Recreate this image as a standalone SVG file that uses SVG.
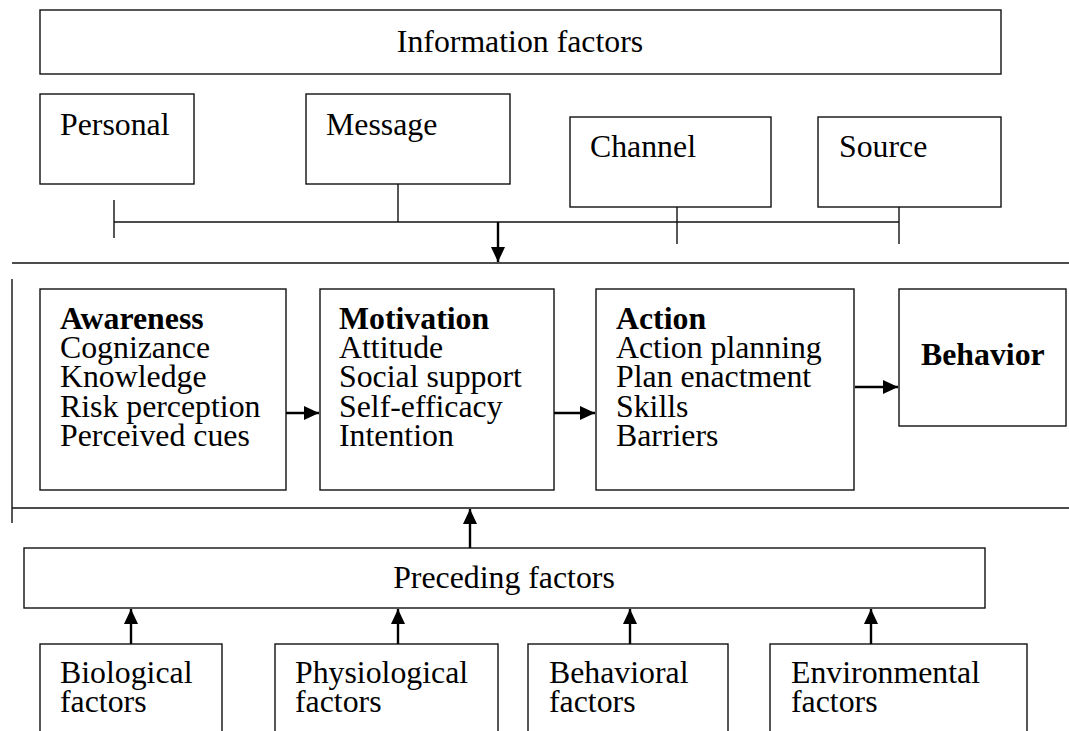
<svg xmlns="http://www.w3.org/2000/svg" width="1069" height="731" viewBox="0 0 1069 731">
<style>
.box{fill:#fff;stroke:#111;stroke-width:1.4}
.t{font-family:"Liberation Serif","Times New Roman",serif;font-size:31.8px;fill:#000}
.b{font-weight:bold}
.ln{stroke:#111;stroke-width:1.4;fill:none}
.ar{stroke:#000;stroke-width:2.4;fill:none;marker-end:url(#ah)}
</style>
<defs>
<marker id="ah" markerUnits="userSpaceOnUse" markerWidth="16" markerHeight="14" refX="15" refY="7" orient="auto">
<path d="M0,0 L15,7 L0,14 z" fill="#000"/>
</marker>
</defs>
<rect width="1069" height="731" fill="#fff"/>

<g id="information-factors"><rect class="box" x="40" y="10" width="961" height="64"/><text class="t" x="520" y="52" text-anchor="middle">Information factors</text></g>
<g id="personal"><rect class="box" x="40" y="94" width="154" height="90"/><text class="t" x="60" y="135">Personal</text></g>
<g id="message"><rect class="box" x="306" y="94" width="204" height="90"/><text class="t" x="326" y="135">Message</text></g>
<g id="channel"><rect class="box" x="570" y="117" width="201" height="90"/><text class="t" x="590" y="157">Channel</text></g>
<g id="source"><rect class="box" x="818" y="117" width="183" height="90"/><text class="t" x="839" y="157">Source</text></g>

<g id="awareness"><rect class="box" x="40" y="289" width="246" height="201"/>
<text class="t" x="60" y="329"><tspan class="b">Awareness</tspan><tspan x="60" y="358">Cognizance</tspan><tspan x="60" y="387">Knowledge</tspan><tspan x="60" y="417">Risk perception</tspan><tspan x="60" y="446">Perceived cues</tspan></text></g>
<g id="motivation"><rect class="box" x="320" y="289" width="234" height="201"/>
<text class="t" x="339" y="329"><tspan class="b">Motivation</tspan><tspan x="339" y="358">Attitude</tspan><tspan x="339" y="387">Social support</tspan><tspan x="339" y="417">Self-efficacy</tspan><tspan x="339" y="446">Intention</tspan></text></g>
<g id="action"><rect class="box" x="596" y="289" width="258" height="201"/>
<text class="t" x="616" y="329"><tspan class="b">Action</tspan><tspan x="616" y="358">Action planning</tspan><tspan x="616" y="387">Plan enactment</tspan><tspan x="616" y="417">Skills</tspan><tspan x="616" y="446">Barriers</tspan></text></g>
<g id="behavior"><rect class="box" x="899" y="289" width="167" height="137"/><text class="t b" x="921" y="365">Behavior</text></g>

<g id="preceding-factors"><rect class="box" x="24" y="548" width="961" height="60"/><text class="t" x="504" y="588" text-anchor="middle">Preceding factors</text></g>
<g id="biological"><rect class="box" x="40" y="644" width="182" height="100"/><text class="t" x="60" y="683"><tspan>Biological</tspan><tspan x="60" y="712">factors</tspan></text></g>
<g id="physiological"><rect class="box" x="275" y="644" width="223" height="100"/><text class="t" x="295" y="683"><tspan>Physiological</tspan><tspan x="295" y="712">factors</tspan></text></g>
<g id="behavioral"><rect class="box" x="528" y="644" width="200" height="100"/><text class="t" x="549" y="683"><tspan>Behavioral</tspan><tspan x="549" y="712">factors</tspan></text></g>
<g id="environmental"><rect class="box" x="770" y="644" width="257" height="100"/><text class="t" x="791" y="683"><tspan>Environmental</tspan><tspan x="791" y="712">factors</tspan></text></g>

<g id="connectors">
<line class="ln" x1="114" y1="222" x2="899" y2="222"/>
<line class="ln" x1="114" y1="200" x2="114" y2="238"/>
<line class="ln" x1="398" y1="184" x2="398" y2="222"/>
<line class="ln" x1="677" y1="207" x2="677" y2="244"/>
<line class="ln" x1="899" y1="207" x2="899" y2="244"/>
<line class="ar" x1="498" y1="222" x2="498" y2="262"/>
<line class="ln" x1="12" y1="263" x2="1069" y2="263"/>
<line class="ln" x1="12" y1="508" x2="1069" y2="508"/>
<line class="ln" x1="12" y1="279" x2="12" y2="523"/>
<line class="ar" x1="286" y1="413" x2="319" y2="413"/>
<line class="ar" x1="554" y1="413" x2="595" y2="413"/>
<line class="ar" x1="855" y1="387" x2="898" y2="387"/>
<line class="ar" x1="470" y1="548" x2="470" y2="509"/>
<line class="ar" x1="131" y1="644" x2="131" y2="609"/>
<line class="ar" x1="398" y1="644" x2="398" y2="609"/>
<line class="ar" x1="630" y1="644" x2="630" y2="609"/>
<line class="ar" x1="871" y1="644" x2="871" y2="609"/>
</g>
</svg>
